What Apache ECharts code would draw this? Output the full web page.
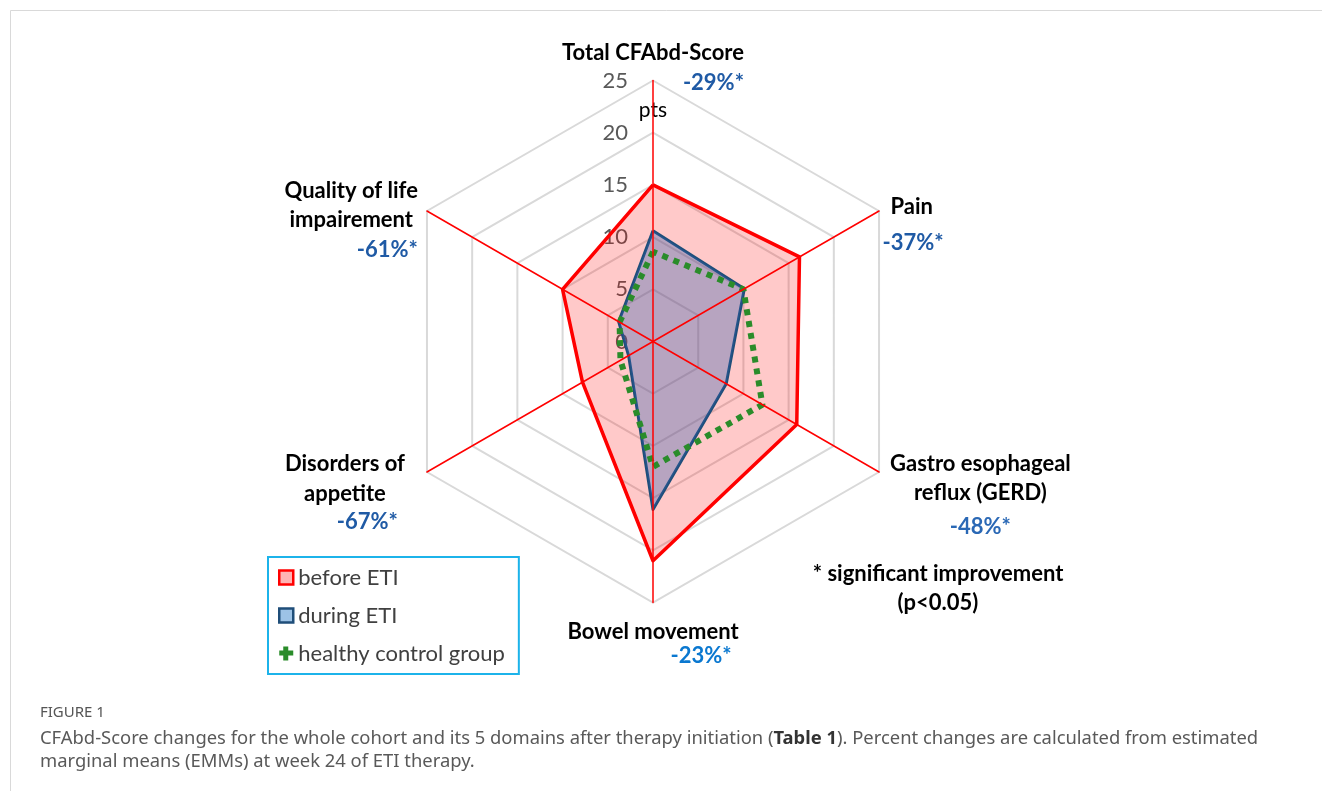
<!DOCTYPE html>
<html>
<head>
<meta charset="utf-8">
<title>CFAbd-Score radar</title>
<script src="https://cdn.jsdelivr.net/npm/echarts@6/dist/echarts.min.js"></script>
<style>
    html, body { margin: 0; padding: 0; background: #fff; }
    #chart { width: 1322px; height: 791px; }
</style>
</head>
<body>
<div id="chart"></div>
<script>
// 数据 (counter-clockwise from the top, as the radar lays them out)
var domains = ['Total CFAbd-Score', 'Quality of life\nimpairement', 'Disorders of\nappetite', 'Bowel movement', 'Gastro esophageal\nreflux (GERD)', 'Pain'];
var changes = ['-29%*', '-61%*', '-67%*', '-23%*', '-48%*', '-37%*'];
var beforeEti = [15, 10, 7.8, 21, 15.9, 16.2];
var duringEti = [10.6, 3.8, 2.7, 16.1, 8.1, 10.1];
var healthy = [8.6, 3.7, 3.6, 12, 12.1, 10];
var scaleMax = 25;
var seriesNames = ['before ETI', 'during ETI', 'healthy control group'];

// label placement per indicator
var nameLayout = [
    {gap: 42.5, line: 'n', pct: 'pR', style: {verticalAlign: 'top'}},
    {gap: 10.4, line: 'n', pct: 'pR', style: {padding: [30, 0, 0, 0]}},
    {gap: 25.4, line: 'n30', pct: 'pR7', style: {padding: [15, 0, 0, 0]}},
    {gap: 16.5, line: 'n26', pct: 'pB', style: {}},
    {gap: 12.7, line: 'n', pct: 'pC', style: {padding: [39, 0, 0, 0]}},
    {gap: 4, line: 'nL8', pct: 'pL', style: {padding: [38, 0, 0, 0]}}
];

var pctBlue = '#1f5aa5';

var indicators = domains.map(function (d, i) {
    var lay = nameLayout[i];
    var txt = d.split('\n').map(function (l) {
        return '{' + lay.line + '|' + l + '}';
    }).join('\n') + '\n{' + lay.pct + '|' + changes[i] + '}';
    var ind = {name: txt, min: 0, max: scaleMax, nameGap: lay.gap, nameTextStyle: lay.style};
    if (i === 0) {
        ind.axisLabel = {show: true};
        ind.nameMoveOverlap = false;
    }
    return ind;
});

var bold = {fontFamily: 'Lato', fontWeight: 'bold', fontSize: 22};
function rs(extra) {
    return Object.assign({}, bold, extra);
}

var chart = echarts.init(document.getElementById('chart'), null, {renderer: 'canvas'});

var option = {
    backgroundColor: '#fff',
    animation: false,
    radar: [{
        center: [653, 341.5],
        radius: 261,
        startAngle: 90,
        splitNumber: 5,
        shape: 'polygon',
        z: 1,
        indicator: indicators,
        axisName: {
            color: '#000',
            fontFamily: 'Lato',
            fontWeight: 'bold',
            fontSize: 22,
            rich: {
                n: rs({color: '#000', lineHeight: 29, align: 'center'}),
                n30: rs({color: '#000', lineHeight: 30, align: 'center'}),
                n26: rs({color: '#000', lineHeight: 26, align: 'center'}),
                nL8: rs({color: '#000', lineHeight: 29, align: 'left', padding: [0, 0, 0, 8]}),
                pR: rs({color: pctBlue, lineHeight: 31, align: 'right'}),
                pR7: rs({color: pctBlue, lineHeight: 26, align: 'right', padding: [0, 7, 0, 0]}),
                pB: rs({color: '#0a78d0', lineHeight: 22, align: 'right', padding: [0, 7, 0, 0]}),
                pC: rs({color: '#2a68b5', lineHeight: 39, align: 'center'}),
                pL: rs({color: pctBlue, lineHeight: 43, align: 'left'})
            }
        },
        axisLine: {show: false},
        axisTick: {show: false},
        axisLabel: {show: false, color: '#595959', fontFamily: 'Lato', fontSize: 22, margin: 25},
        splitLine: {lineStyle: {color: '#d9d9d9', width: 2}},
        splitArea: {show: false}
    }, {
        // red spokes drawn above the filled areas
        center: [653, 341.5],
        radius: 261,
        startAngle: 90,
        splitNumber: 5,
        shape: 'polygon',
        z: 10,
        indicator: domains.map(function () {
            return {name: '', min: 0, max: scaleMax};
        }),
        axisName: {show: false},
        axisLine: {lineStyle: {color: '#ff0000', width: 1.5}},
        axisTick: {show: false},
        axisLabel: {show: false},
        splitLine: {show: false},
        splitArea: {show: false}
    }],
    legend: {
        orient: 'vertical',
        left: 268,
        top: 557,
        padding: [8, 14, 8, 10],
        itemGap: 13,
        itemWidth: 14,
        itemHeight: 14,
        borderColor: '#1cb3ea',
        borderWidth: 2,
        textStyle: {fontFamily: 'Lato', fontSize: 22, color: '#404040', lineHeight: 25},
        data: [
            {name: seriesNames[0], icon: 'rect', itemStyle: {color: '#ffb3b3', borderColor: '#ff0000', borderWidth: 2.5}},
            {name: seriesNames[1], icon: 'rect', itemStyle: {color: '#9dc3e6', borderColor: '#1f4e79', borderWidth: 2.5}},
            {name: seriesNames[2], icon: 'path://M4,0h5v4h-5z M0,4h5v5h-5z M9,4h5v5h-5z M4,9h5v5h-5z M5,4h4v5h-4z', itemStyle: {color: '#2a8c2a'}}
        ]
    },
    series: [{
        type: 'radar',
        radarIndex: 0,
        symbol: 'none',
        z: 2,
        data: [{
            name: seriesNames[0],
            value: beforeEti,
            itemStyle: {color: '#ff0000'},
            lineStyle: {color: '#ff0000', width: 3.5},
            areaStyle: {color: 'rgba(255,0,0,0.3)'}
        }, {
            name: seriesNames[1],
            value: duringEti,
            itemStyle: {color: '#1f4e79'},
            lineStyle: {color: '#1f4e79', width: 3},
            areaStyle: {color: 'rgba(50,95,175,0.5)'}
        }, {
            name: seriesNames[2],
            value: healthy,
            itemStyle: {color: '#2a8c2a'},
            lineStyle: {color: '#2a8c2a', width: 6, type: [6, 6], cap: 'butt'}
        }]
    }],
    graphic: [{
        type: 'line',
        shape: {x1: 10.5, y1: 10.5, x2: 1322, y2: 10.5},
        style: {stroke: '#d9d9d9', lineWidth: 1}
    }, {
        type: 'line',
        shape: {x1: 10.5, y1: 10.5, x2: 10.5, y2: 791},
        style: {stroke: '#d9d9d9', lineWidth: 1}
    }, {
        type: 'text',
        x: 653,
        y: 110,
        style: {text: 'pts', align: 'center', verticalAlign: 'middle', font: '21px Lato', fill: '#000'}
    }, {
        type: 'text',
        x: 938,
        y: 559.5,
        style: {
            text: '* significant improvement\n(p<0.05)',
            align: 'center',
            verticalAlign: 'top',
            font: 'bold 22px Lato',
            lineHeight: 29,
            fill: '#000'
        }
    }, {
        type: 'text',
        x: 40,
        y: 713,
        style: {text: 'FIGURE 1', verticalAlign: 'middle', font: '15px "Noto Sans"', fill: '#555'}
    }, {
        type: 'text',
        x: 40,
        y: 727,
        style: {
            text: 'CFAbd-Score changes for the whole cohort and its 5 domains after therapy initiation ({b|Table 1}). Percent changes are calculated from estimated\nmarginal means (EMMs) at week 24 of ETI therapy.',
            verticalAlign: 'top',
            font: '18.4px "Noto Sans"',
            lineHeight: 23,
            fill: '#595959',
            rich: {
                b: {fontFamily: 'Noto Sans', fontSize: 18.4, fontWeight: 'bold', fill: '#333', lineHeight: 23}
            }
        }
    }]
};

chart.setOption(option);
</script>
</body>
</html>
